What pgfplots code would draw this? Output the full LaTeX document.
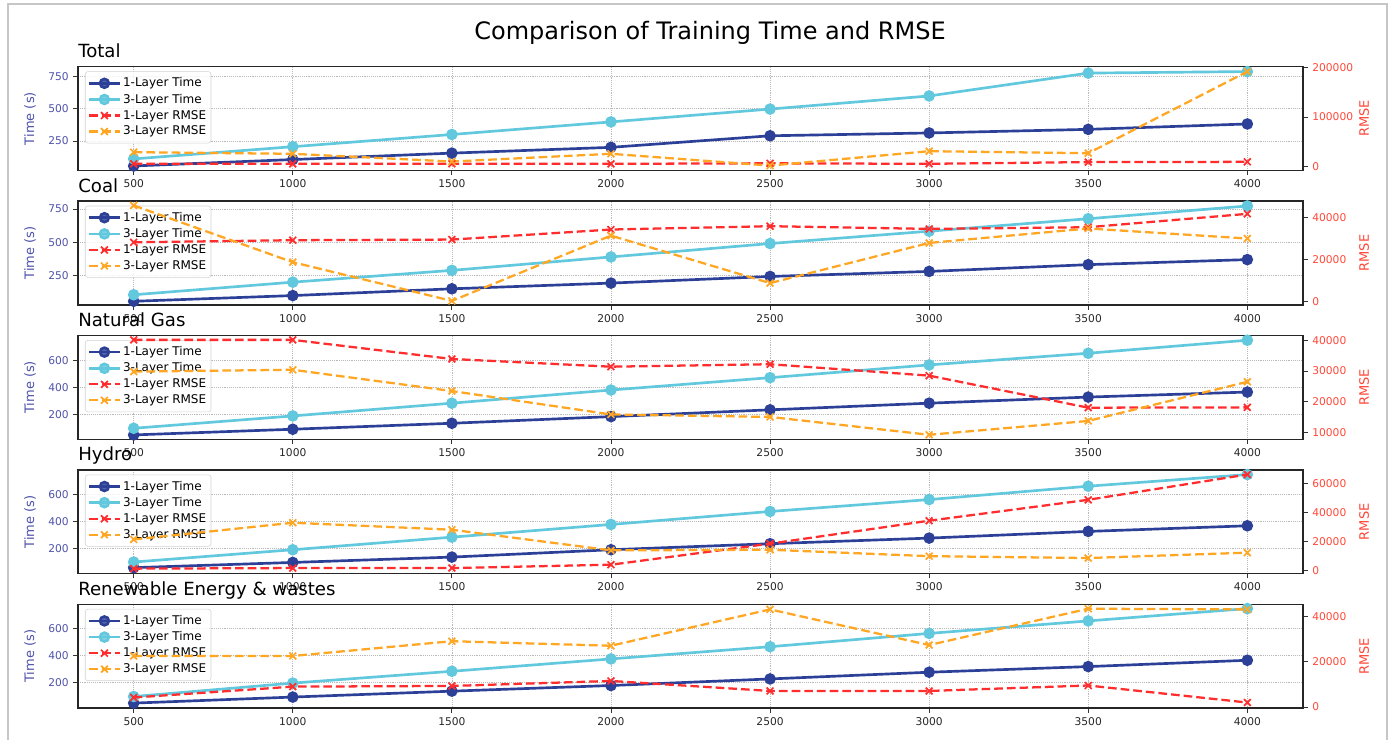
\documentclass[border=0pt]{standalone}
\usepackage{fontspec}
\setmainfont{DejaVu Sans}
\usepackage{pgfplots}
\usepackage{pgfplotstable}
\pgfplotsset{compat=1.18}

\definecolor{cT1}{RGB}{44,64,152}
\definecolor{cT3}{RGB}{98,200,222}
\definecolor{cR1}{RGB}{255,45,45}
\definecolor{cR3}{RGB}{255,166,35}
\definecolor{timecol}{RGB}{78,82,170}
\definecolor{rmsecol}{RGB}{255,70,55}

\pgfplotstableread{
ep t1 t3 r1 r3
500 55 110 5000 28600
1000 105 205 5000 25300
1500 155 300 5000 9600
2000 200 398 5000 25300
2500 290 498 6000 1400
3000 312 600 5000 30600
3500 340 778 8500 26500
4000 382 790 9000 192000
}\totaldata

\pgfplotstableread{
ep t1 t3 r1 r3
500 55 104 28300 45900
1000 98 199 29300 18800
1500 149 288 29600 300
2000 192 389 34400 31500
2500 242 490 36000 8800
3000 280 583 34700 28000
3500 331 677 35500 34900
4000 369 773 41900 30100
}\coaldata

\pgfplotstableread{
ep t1 t3 r1 r3
500 50 99 40100 29800
1000 92 190 40100 30400
1500 136 284 33900 23500
2000 185 381 31400 15900
2500 235 472 32200 15100
3000 284 566 28500 9300
3500 329 652 18100 13800
4000 366 748 18200 26500
}\gasdata

\pgfplotstableread{
ep t1 t3 r1 r3
500 54 96 1200 21300
1000 93 188 1600 32800
1500 133 282 1600 28000
2000 188 377 3900 13800
2500 233 474 18400 14200
3000 275 563 34200 9800
3500 325 663 48600 8500
4000 367 750 66000 12200
}\hydrodata

\pgfplotstableread{
ep t1 t3 r1 r3
500 44 93 4200 22500
1000 89 193 9000 22500
1500 133 281 9300 29000
2000 175 373 11500 27000
2500 224 464 7100 43000
3000 274 563 7100 27300
3500 316 656 9500 43300
4000 363 748 2000 43000
}\renewdata

\pgfplotsset{
  longlegend/.style={legend image code/.code={\draw[mark repeat=2,mark phase=2] plot coordinates {(0cm,0cm) (0.4cm,0cm) (0.8cm,0cm)};}},
  t1style/.style={color=cT1, line width=2pt, mark=*, mark size=3.3pt, mark options={solid, fill=cT1}, longlegend},
  t3style/.style={color=cT3, line width=2pt, mark=*, mark size=3.3pt, mark options={solid, fill=cT3}, longlegend},
  r1style/.style={color=cR1, line width=1.7pt, dash pattern=on 6.5pt off 3pt, mark=x, mark size=3.6pt, mark options={solid, line width=1.3pt}, longlegend},
  r3style/.style={color=cR3, line width=1.7pt, dash pattern=on 6.5pt off 3pt, mark=x, mark size=3.6pt, mark options={solid, line width=1.3pt}, longlegend},
  common/.style={
    width=918.75pt, height=77.85pt, scale only axis, anchor=north west,
    xmin=325, xmax=4175, xtick={500,1000,...,4000},
    tick align=outside, major tick length=3.5pt,
    /pgf/number format/assume math mode=true,
    /pgf/number format/fixed,
    /pgf/number format/1000 sep={},
    scaled y ticks=false,
  },
  timeaxis/.style={
    common,
    xtick pos=bottom, ytick pos=left,
    axis background/.style={fill=white},
    axis line style={line width=1pt, black!85},
    tick style={black!80, line width=0.6pt},
    grid=major, grid style={densely dotted, gray!55, line width=0.5pt},
    xticklabel style={font=\fontsize{8}{9}\selectfont, text=black!85},
    yticklabel style={font=\fontsize{8}{9}\selectfont, text=timecol},
    ylabel={Time (s)},
    ylabel style={font=\fontsize{9.75}{11}\selectfont, text=timecol, at={(axis description cs:-0.0392,0.5)}, anchor=center},
    title style={font=\fontsize{13.6}{15}\selectfont, at={(0,1)}, anchor=base west, yshift=0.8pt, inner sep=0pt},
    xlabel style={font=\fontsize{9.75}{11}\selectfont, at={(axis description cs:0.5,-0.30)}, anchor=north, inner sep=0pt},
    legend style={font=\fontsize{9}{10}\selectfont, draw=gray!35, rounded corners=2pt, fill=white, fill opacity=0.8, text opacity=1, at={(0.0057,0.955)}, anchor=north west, inner xsep=2pt, inner ysep=3pt, row sep=0.6pt, nodes={inner sep=1.6pt}},
    legend cell align=left,
  },
  rmseaxis/.style={
    common,
    axis x line=none, axis y line*=right, ytick pos=right,
    axis line style={line width=1pt, black!85},
    tick style={black!80, line width=0.6pt},
    yticklabel style={font=\fontsize{8}{9}\selectfont, text=rmsecol},
    ylabel={RMSE},
    ylabel style={font=\fontsize{9.75}{11}\selectfont, text=rmsecol, at={(axis description cs:1.0498,0.5)}, anchor=center},
  },
}

\begin{document}
\begin{tikzpicture}
\draw[gray!45, line width=0.8pt] (6pt,-600pt) -- (6pt,-3pt) -- (1040.25pt,-3pt) -- (1040.25pt,-600pt);
\node[font=\fontsize{18}{20}\selectfont] at (532.5pt,-24.5pt) {Comparison of Training Time and RMSE};

% ---------- Total ----------
\begin{axis}[timeaxis, at={(58.5pt,-50pt)}, ymin=20, ymax=828, ytick={250,500,750}, title={Total}, xlabel={Epochs}]
\addplot[t1style] table[x=ep,y=t1]{\totaldata};
\addplot[t3style] table[x=ep,y=t3]{\totaldata};
\addlegendimage{r1style}
\addlegendimage{r3style}
\legend{1-Layer Time,3-Layer Time,1-Layer RMSE,3-Layer RMSE}
\end{axis}
\begin{axis}[rmseaxis, at={(58.5pt,-50pt)}, ymin=-8500, ymax=202000, ytick={0,100000,200000}]
\addplot[r1style] table[x=ep,y=r1]{\totaldata};
\addplot[r3style] table[x=ep,y=r3]{\totaldata};
\end{axis}

% ---------- Coal ----------
\begin{axis}[timeaxis, at={(58.5pt,-150.8pt)}, ymin=28, ymax=810, ytick={250,500,750}, title={Coal}, xlabel={Epochs}]
\addplot[t1style] table[x=ep,y=t1]{\coaldata};
\addplot[t3style] table[x=ep,y=t3]{\coaldata};
\addlegendimage{r1style}
\addlegendimage{r3style}
\legend{1-Layer Time,3-Layer Time,1-Layer RMSE,3-Layer RMSE}
\end{axis}
\begin{axis}[rmseaxis, at={(58.5pt,-150.8pt)}, ymin=-1600, ymax=48000, ytick={0,20000,40000}]
\addplot[r1style] table[x=ep,y=r1]{\coaldata};
\addplot[r3style] table[x=ep,y=r3]{\coaldata};
\end{axis}

% ---------- Natural Gas ----------
\begin{axis}[timeaxis, at={(58.5pt,-251.6pt)}, ymin=18, ymax=783, ytick={200,400,600}, title={Natural Gas}, xlabel={Epochs}]
\addplot[t1style] table[x=ep,y=t1]{\gasdata};
\addplot[t3style] table[x=ep,y=t3]{\gasdata};
\addlegendimage{r1style}
\addlegendimage{r3style}
\legend{1-Layer Time,3-Layer Time,1-Layer RMSE,3-Layer RMSE}
\end{axis}
\begin{axis}[rmseaxis, at={(58.5pt,-251.6pt)}, ymin=7850, ymax=41530, ytick={10000,20000,30000,40000}]
\addplot[r1style] table[x=ep,y=r1]{\gasdata};
\addplot[r3style] table[x=ep,y=r3]{\gasdata};
\end{axis}

% ---------- Hydro ----------
\begin{axis}[timeaxis, at={(58.5pt,-352.4pt)}, ymin=9, ymax=785, ytick={200,400,600}, title={Hydro}, xlabel={Epochs}]
\addplot[t1style] table[x=ep,y=t1]{\hydrodata};
\addplot[t3style] table[x=ep,y=t3]{\hydrodata};
\addlegendimage{r1style}
\addlegendimage{r3style}
\legend{1-Layer Time,3-Layer Time,1-Layer RMSE,3-Layer RMSE}
\end{axis}
\begin{axis}[rmseaxis, at={(58.5pt,-352.4pt)}, ymin=-2270, ymax=69200, ytick={0,20000,40000,60000}]
\addplot[r1style] table[x=ep,y=r1]{\hydrodata};
\addplot[r3style] table[x=ep,y=r3]{\hydrodata};
\end{axis}

% ---------- Renewable ----------
\begin{axis}[timeaxis, at={(58.5pt,-453.2pt)}, ymin=7, ymax=780, ytick={200,400,600}, title={Renewable Energy \& wastes}]
\addplot[t1style] table[x=ep,y=t1]{\renewdata};
\addplot[t3style] table[x=ep,y=t3]{\renewdata};
\addlegendimage{r1style}
\addlegendimage{r3style}
\legend{1-Layer Time,3-Layer Time,1-Layer RMSE,3-Layer RMSE}
\end{axis}
\begin{axis}[rmseaxis, at={(58.5pt,-453.2pt)}, ymin=-440, ymax=45260, ytick={0,20000,40000}]
\addplot[r1style] table[x=ep,y=r1]{\renewdata};
\addplot[r3style] table[x=ep,y=r3]{\renewdata};
\end{axis}

\pgfresetboundingbox
\useasboundingbox (0,0) rectangle (1044pt,-554.25pt);
\end{tikzpicture}
\end{document}
